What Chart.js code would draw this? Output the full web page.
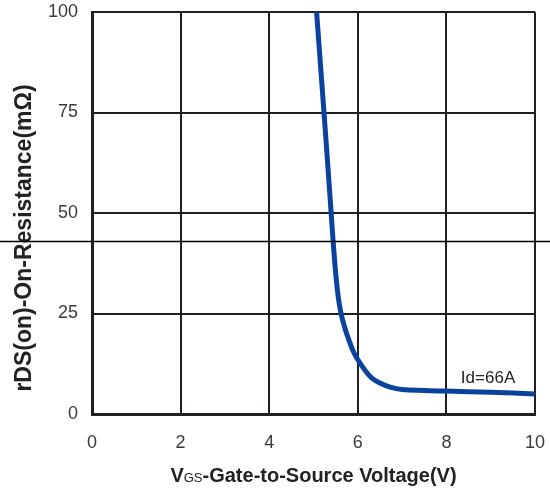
<!DOCTYPE html>
<html>
<head>
<meta charset="utf-8">
<script src="https://cdn.jsdelivr.net/npm/chart.js@4/dist/chart.umd.min.js"></script>
<style>
  html, body { margin: 0; padding: 0; background: #fff; }
  #wrap { width: 550px; height: 490px; position: relative; }
</style>
</head>
<body>
<div id="wrap"><canvas id="myChart"></canvas></div>
<script>
// Gate voltage (V) vs on-resistance (mOhm), Id = 66A
const vgs = [5.07, 5.17, 5.27, 5.37, 5.43, 5.485, 5.53, 5.575, 5.63, 5.7, 5.77, 5.92, 6.16, 6.31, 6.5, 6.73, 7.0, 7.5, 8.0, 9.0, 10.0];
const rdsOn = [100, 85, 70, 54.5, 45, 37, 31.8, 27.8, 24.6, 21.7, 19.3, 15.1, 10.9, 9.0, 7.7, 6.7, 6.1, 5.85, 5.7, 5.4, 5.0];
const xTicks = [0, 2, 4, 6, 8, 10];
const yTicks = [0, 25, 50, 75, 100];
const curveLabel = 'Id=66A';

const points = vgs.map((v, i) => ({ x: v, y: rdsOn[i] }));

const fontFamily = '"Liberation Sans", Arial, sans-serif';

const overlay = {
  id: 'overlay',
  afterDraw(chart) {
    const ctx = chart.ctx;
    const x = chart.scales.x;
    const y = chart.scales.y;
    const area = chart.chartArea;
    ctx.save();
    // curve label
    ctx.fillStyle = '#222';
    ctx.font = '17px ' + fontFamily;
    ctx.textAlign = 'center';
    ctx.textBaseline = 'middle';
    ctx.fillText(curveLabel, x.getPixelForValue(8.94), y.getPixelForValue(9));

    // x axis title with small "GS"
    const big = 'bold 20px ' + fontFamily;
    const small = '13px ' + fontFamily;
    const parts = [['V', big], ['GS', small], ['-Gate-to-Source Voltage(V)', big]];
    let total = 0;
    parts.forEach(p => { ctx.font = p[1]; total += ctx.measureText(p[0]).width; });
    let cx = (area.left + area.right) / 2 - total / 2;
    ctx.fillStyle = '#222';
    ctx.textAlign = 'left';
    ctx.textBaseline = 'alphabetic';
    parts.forEach(p => { ctx.font = p[1]; ctx.fillText(p[0], cx, 482); cx += ctx.measureText(p[0]).width; });

    // y axis title
    ctx.save();
    ctx.translate(31, 238);
    ctx.rotate(-Math.PI / 2);
    ctx.font = 'bold 23px ' + fontFamily;
    ctx.textAlign = 'center';
    ctx.fillText('rDS(on)-On-Resistance(mΩ)', 0, 0);
    ctx.restore();

    // stray horizontal line across the whole figure
    const ly = Math.round(y.getPixelForValue(43)) + 0.5;
    ctx.strokeStyle = '#000';
    ctx.lineWidth = 1.5;
    ctx.beginPath();
    ctx.moveTo(0, ly);
    ctx.lineTo(chart.width, ly);
    ctx.stroke();
    ctx.restore();
  }
};

new Chart(document.getElementById('myChart').getContext('2d'), {
  type: 'scatter',
  data: {
    datasets: [{
      data: points,
      showLine: true,
      borderColor: '#0a439e',
      borderWidth: 5,
      pointRadius: 0,
      tension: 0.4,
      fill: false
    }]
  },
  options: {
    responsive: true,
    maintainAspectRatio: false,
    animation: false,
    layout: { padding: { top: 12, right: 15, left: 0, bottom: 0 } },
    plugins: { legend: { display: false }, tooltip: { enabled: false } },
    scales: {
      x: {
        type: 'linear',
        min: 0,
        max: 10,
        afterBuildTicks: (s) => { s.ticks = xTicks.map(v => ({ value: v })); },
        afterFit: (s) => { s.height = 76; s.paddingLeft = 0; s.paddingRight = 0; },
        ticks: { color: '#3a3a3a', font: { size: 18, family: fontFamily }, padding: 18, maxRotation: 0 },
        grid: { color: '#231f20', lineWidth: 2, drawTicks: false },
        border: { color: '#231f20', width: 3 },
        title: { display: false }
      },
      y: {
        type: 'linear',
        min: 0,
        max: 100,
        afterBuildTicks: (s) => { s.ticks = yTicks.map(v => ({ value: v })); },
        afterFit: (s) => { s.width = 92; s.paddingTop = 0; s.paddingBottom = 0; },
        ticks: { color: '#3a3a3a', font: { size: 18, family: fontFamily }, padding: 14 },
        grid: { color: '#231f20', lineWidth: 2, drawTicks: false },
        border: { color: '#231f20', width: 3 },
        title: { display: false }
      }
    }
  },
  plugins: [overlay]
});
</script>
</body>
</html>
